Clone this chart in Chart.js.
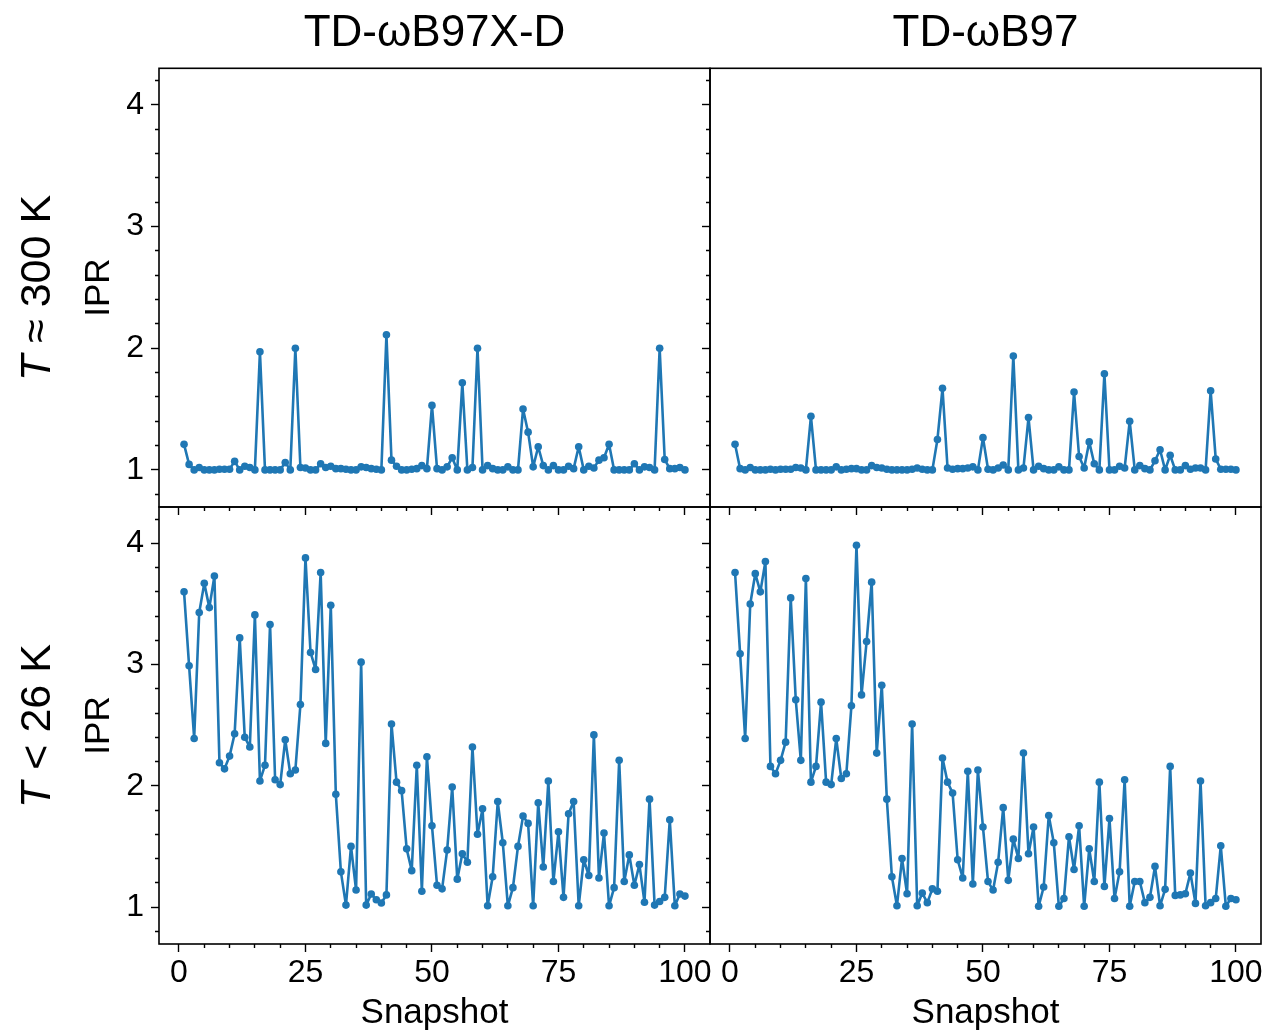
<!DOCTYPE html>
<html>
<head>
<meta charset="utf-8">
<script src="https://cdn.jsdelivr.net/npm/chart.js@4.4.0/dist/chart.umd.min.js"></script>
<style>
  body { margin: 0; background: #fff; }
  #fig { position: relative; width: 1270px; height: 1033px; overflow: hidden; background: #fff;
         font-family: "Liberation Sans", Arial, sans-serif; color: #000; }
  #fig canvas { position: absolute; }
  .row-label { position: absolute; width: 440px; height: 50px; line-height: 50px; text-align: center;
               font-size: 43px; transform: rotate(-90deg); white-space: nowrap; }
</style>
</head>
<body>
<div id="fig">
  <canvas id="c-tl" width="720" height="520" style="left:0;top:0"></canvas>
  <canvas id="c-tr" width="570" height="520" style="left:700px;top:0"></canvas>
  <canvas id="c-bl" width="720" height="533" style="left:0;top:500px"></canvas>
  <canvas id="c-br" width="570" height="533" style="left:700px;top:500px"></canvas>
  <div class="row-label" style="left:-185px;top:263px"><i>T</i> ≈ 300 K</div>
  <div class="row-label" style="left:-185px;top:701px"><i>T</i> &lt; 26 K</div>
</div>
<script>
// ----------------------
// Data
// ----------------------
const snapshots = [
  1, 2, 3, 4, 5, 6, 7, 8, 9, 10, 11, 12, 13, 14, 15, 16, 17, 18, 19, 20,
  21, 22, 23, 24, 25, 26, 27, 28, 29, 30, 31, 32, 33, 34, 35, 36, 37, 38, 39, 40,
  41, 42, 43, 44, 45, 46, 47, 48, 49, 50, 51, 52, 53, 54, 55, 56, 57, 58, 59, 60,
  61, 62, 63, 64, 65, 66, 67, 68, 69, 70, 71, 72, 73, 74, 75, 76, 77, 78, 79, 80,
  81, 82, 83, 84, 85, 86, 87, 88, 89, 90, 91, 92, 93, 94, 95, 96, 97, 98, 99, 100
];

const columnTitles = ["TD-ωB97X-D", "TD-ωB97"];
const yTickLabels = [1, 2, 3, 4];
const xTickLabels = [0, 25, 50, 75, 100];

// T ≈ 300 K, TD-ωB97X-D
const iprWb97xd300 = [
  1.21, 1.045, 1.0, 1.02, 1.0, 1.0, 1.0, 1.005, 1.005, 1.005,
  1.07, 1.0, 1.03, 1.02, 1.0, 1.97, 1.0, 1.0, 1.0, 1.0,
  1.06, 1.0, 2.0, 1.02, 1.015, 1.0, 1.0, 1.05, 1.02, 1.03,
  1.01, 1.01, 1.005, 1.0, 1.0, 1.025, 1.02, 1.01, 1.005, 1.0,
  2.11, 1.08, 1.03, 1.0, 1.0, 1.005, 1.01, 1.035, 1.01, 1.53,
  1.01, 1.0, 1.025, 1.1, 1.0, 1.715, 1.0, 1.02, 2.0, 1.0,
  1.035, 1.01, 1.0, 1.0, 1.025, 1.0, 1.0, 1.5, 1.31, 1.025,
  1.19, 1.035, 1.0, 1.035, 1.0, 1.0, 1.03, 1.01, 1.19, 1.0,
  1.03, 1.015, 1.08, 1.1, 1.21, 1.0, 1.0, 1.0, 1.0, 1.05,
  1.0, 1.025, 1.02, 1.0, 2.0, 1.085, 1.01, 1.01, 1.02, 1.0
];

// T ≈ 300 K, TD-ωB97
const iprWb97300 = [
  1.21, 1.01, 1.0, 1.02, 1.0, 1.0, 1.0, 1.005, 1.0, 1.005,
  1.005, 1.005, 1.02, 1.015, 1.0, 1.44, 1.0, 1.0, 1.0, 1.0,
  1.025, 1.0, 1.005, 1.01, 1.01, 1.0, 1.0, 1.035, 1.02, 1.015,
  1.005, 1.0, 1.0, 1.0, 1.0, 1.005, 1.015, 1.005, 1.0, 1.0,
  1.25, 1.67, 1.015, 1.005, 1.01, 1.01, 1.015, 1.025, 1.0, 1.265,
  1.005, 1.0, 1.015, 1.04, 1.0, 1.935, 1.0, 1.015, 1.43, 1.0,
  1.03, 1.01, 1.0, 1.0, 1.025, 1.0, 1.0, 1.64, 1.11, 1.015,
  1.23, 1.05, 1.0, 1.79, 1.0, 1.0, 1.03, 1.015, 1.40, 1.0,
  1.035, 1.01, 1.0, 1.075, 1.165, 1.0, 1.12, 1.0, 1.0, 1.035,
  1.005, 1.015, 1.015, 1.0, 1.65, 1.09, 1.005, 1.005, 1.005, 1.0
];

// T < 26 K, TD-ωB97X-D
const iprWb97xd26 = [
  3.60, 2.99, 2.39, 3.43, 3.67, 3.47, 3.73, 2.19, 2.14, 2.245,
  2.43, 3.22, 2.40, 2.32, 3.41, 2.04, 2.17, 3.33, 2.05, 2.01,
  2.38, 2.10, 2.13, 2.67, 3.88, 3.10, 2.96, 3.76, 2.35, 3.49,
  1.93, 1.29, 1.016, 1.50, 1.14, 3.02, 1.016, 1.107, 1.06, 1.033,
  1.10, 2.51, 2.03, 1.96, 1.48, 1.30, 2.17, 1.13, 2.24, 1.67,
  1.18, 1.15, 1.47, 1.99, 1.23, 1.44, 1.37, 2.32, 1.60, 1.81,
  1.01, 1.25, 1.87, 1.53, 1.01, 1.16, 1.50, 1.75, 1.69, 1.01,
  1.86, 1.33, 2.04, 1.21, 1.62, 1.08, 1.77, 1.87, 1.01, 1.39,
  1.26, 2.42, 1.24, 1.61, 1.01, 1.16, 2.21, 1.21, 1.43, 1.18,
  1.35, 1.04, 1.89, 1.016, 1.045, 1.08, 1.72, 1.01, 1.107, 1.09
];

// T < 26 K, TD-ωB97
const iprWb9726 = [
  3.76, 3.09, 2.39, 3.50, 3.75, 3.60, 3.85, 2.16, 2.10, 2.21,
  2.36, 3.55, 2.71, 2.21, 3.71, 2.03, 2.16, 2.69, 2.03, 2.01,
  2.39, 2.06, 2.10, 2.66, 3.985, 2.75, 3.19, 3.68, 2.27, 2.83,
  1.89, 1.25, 1.01, 1.40, 1.11, 2.51, 1.01, 1.115, 1.036, 1.15,
  1.13, 2.23, 2.03, 1.94, 1.39, 1.24, 2.12, 1.19, 2.13, 1.66,
  1.21, 1.14, 1.37, 1.82, 1.22, 1.56, 1.40, 2.27, 1.44, 1.66,
  1.006, 1.165, 1.755, 1.53, 1.006, 1.07, 1.58, 1.31, 1.67, 1.006,
  1.48, 1.21, 2.03, 1.17, 1.73, 1.07, 1.29, 2.05, 1.006, 1.21,
  1.21, 1.036, 1.08, 1.335, 1.01, 1.146, 2.16, 1.096, 1.10, 1.11,
  1.28, 1.03, 2.04, 1.01, 1.036, 1.07, 1.505, 1.006, 1.07, 1.06
];

// ----------------------
// Shared style
// ----------------------
const FONT = '"Liberation Sans", Arial, sans-serif';
const LINE = "#1f77b4";
const X_MIN = -3.95, X_MAX = 104.95;
// not a whole number of 0.2 steps, so Chart.js keeps ticks on 0.8, 1.0, 1.2 ...
const Y_MIN = 0.695, Y_MAX = 4.3;

const near = (v, list) => list.some(t => Math.abs(v - t) < 1e-6);

// box round each plot area (matplotlib spines)
const frame = {
  id: "frame",
  afterDraw(chart) {
    const { ctx, chartArea: a } = chart;
    ctx.save();
    ctx.strokeStyle = "#000";
    ctx.lineWidth = 1.6;
    ctx.strokeRect(a.left, a.top, a.right - a.left, a.bottom - a.top);
    ctx.restore();
  }
};

function fixSize(prop, size) {
  return s => {
    s[prop] = size;
    s.paddingTop = 0; s.paddingBottom = 0; s.paddingLeft = 0; s.paddingRight = 0;
  };
}

function makePanel(id, values, opt) {
  return new Chart(document.getElementById(id), {
    type: "line",
    data: {
      datasets: [{
        data: snapshots.map((s, i) => ({ x: s, y: values[i] })),
        borderColor: LINE,
        backgroundColor: LINE,
        pointBackgroundColor: LINE,
        pointBorderColor: LINE,
        borderWidth: 2.6,
        borderJoinStyle: "round",
        borderCapStyle: "round",
        pointRadius: 3.8,
        pointBorderWidth: 0,
        tension: 0
      }]
    },
    options: {
      responsive: false,
      animation: false,
      events: [],
      layout: { padding: opt.padding },
      plugins: {
        legend: { display: false },
        tooltip: { enabled: false },
        title: {
          display: !!opt.title,
          text: opt.title || "",
          fullSize: false,
          color: "#000",
          font: { family: FONT, size: 44, weight: "normal" },
          padding: { top: 7, bottom: 8.5 }
        }
      },
      scales: {
        x: {
          type: "linear",
          position: "bottom",
          min: X_MIN, max: X_MAX,
          afterFit: fixSize("height", opt.xHeight),
          border: { display: false },
          grid: {
            drawOnChartArea: false, drawTicks: true, tickLength: 8,
            tickColor: "#000", tickWidth: 1.4,
            tickBorderDash: c => (c.tick && near(c.tick.value, xTickLabels)) ? [] : [4, 100]
          },
          ticks: {
            stepSize: 5, includeBounds: false, autoSkip: false, maxRotation: 0,
            padding: 2, color: "#000",
            font: { family: FONT, size: 32 },
            callback: v => (opt.xLabels && near(v, xTickLabels)) ? String(Math.round(v)) : ""
          },
          title: {
            display: !!opt.xLabels, text: "Snapshot", color: "#000",
            font: { family: FONT, size: 35, lineHeight: 1.1 }, padding: { top: 0, bottom: 0 }
          }
        },
        y: {
          type: "linear",
          position: "left",
          min: Y_MIN, max: Y_MAX,
          afterFit: fixSize("width", opt.yWidth),
          border: { display: false },
          grid: {
            drawOnChartArea: false, drawTicks: true, tickLength: 8,
            tickColor: "#000", tickWidth: 1.4,
            tickBorderDash: c => (c.tick && near(c.tick.value, yTickLabels)) ? [] : [0, 4, 4, 100]
          },
          ticks: {
            stepSize: 0.2, includeBounds: false, autoSkip: false,
            padding: 7, color: "#000",
            font: { family: FONT, size: 32 },
            callback: v => (opt.yLabels && near(v, yTickLabels)) ? String(Math.round(v)) : ""
          },
          title: {
            display: !!opt.yLabels, text: "IPR", color: "#000",
            font: { family: FONT, size: 35 }, padding: { top: 8, bottom: 0 }
          }
        }
      }
    },
    plugins: [frame]
  });
}

// ----------------------
// Panels
// ----------------------
makePanel("c-tl", iprWb97xd300, {
  title: columnTitles[0], yLabels: true, xLabels: false,
  padding: { left: 70, right: 10, top: 0, bottom: 5 }, yWidth: 89, xHeight: 8
});
makePanel("c-tr", iprWb97300, {
  title: columnTitles[1], yLabels: false, xLabels: false,
  padding: { left: 0, right: 9, top: 0, bottom: 5 }, yWidth: 10, xHeight: 8
});
makePanel("c-bl", iprWb97xd26, {
  yLabels: true, xLabels: true,
  padding: { left: 70, right: 10, top: 7, bottom: 0 }, yWidth: 89, xHeight: 89
});
makePanel("c-br", iprWb9726, {
  yLabels: false, xLabels: true,
  padding: { left: 0, right: 9, top: 7, bottom: 0 }, yWidth: 10, xHeight: 89
});
</script>
</body>
</html>
